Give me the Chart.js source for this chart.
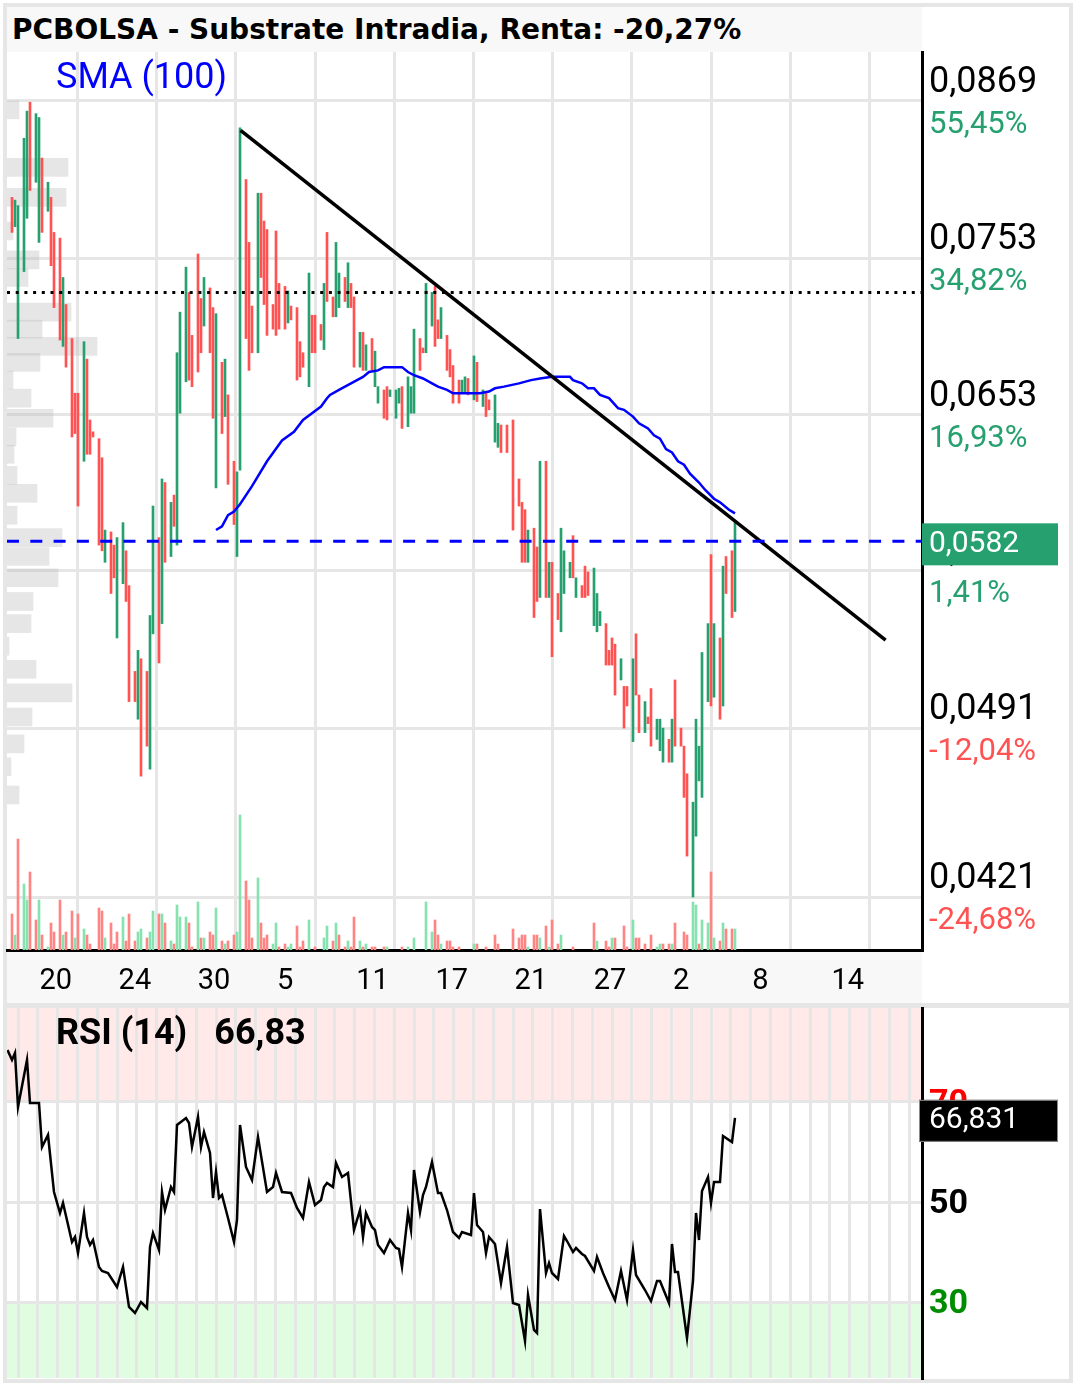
<!DOCTYPE html>
<html>
<head>
<meta charset="utf-8">
<script src="https://cdn.jsdelivr.net/npm/chart.js@4.4.1/dist/chart.umd.min.js"></script>
<style>
  html, body { margin: 0; padding: 0; background: #fff; }
  #page { position: relative; width: 1076px; height: 1385px; overflow: hidden; background: #fff; font-family: Roboto, sans-serif; }
  .frame { position: absolute; left: 3px; top: 3px; width: 1070px; height: 1380px; box-sizing: border-box; border: 4px solid #e6e6e6; }
  #titleBar { position: absolute; left: 7px; top: 7px; width: 915px; height: 45px; background: #f8f8f8; box-sizing: border-box;
              padding-left: 5px; font: bold 28px "DejaVu Sans", sans-serif; line-height: 45px; color: #000; white-space: nowrap; }
  #sep { position: absolute; left: 7px; top: 1003px; width: 1062px; height: 5px; background: #e6e6e6; }
  canvas { position: absolute; left: 0; }
  #main { top: 0; }
  #rsi { top: 1003px; }
  #smaLabel { position: absolute; left: 56px; top: 56px; color: #0000ff; font: 36px Roboto, sans-serif; line-height: 40px; }
  #rsiLabel { position: absolute; left: 56px; top: 1012px; color: #000; font: bold 36px Roboto, sans-serif; line-height: 40px; white-space: nowrap; }
  #rsiLabel span { margin-left: 27px; }
</style>
</head>
<body>
<div id="page">
  <div class="frame"></div>
  <div id="titleBar">PCBOLSA - Substrate Intradia, Renta: -20,27%</div>
  <canvas id="main" width="1076" height="1003"></canvas>
  <div id="sep"></div>
  <canvas id="rsi" width="1076" height="382"></canvas>
  <div id="smaLabel">SMA (100)</div>
  <div id="rsiLabel">RSI (14)<span>66,83</span></div>
</div>
<script>
/* =========================
   DATOS
========================= */
// velas (posición = número de barra intradía)
const candleSlots = [
  0,1,2, 4,5,6, 8,9,10, 12,13,14, 16,17,18, 20,21,22, 24,25,26,27, 29,30,31, 33,34,35, 37,38,39,
  41,42,43, 45,46,47, 49,50,51, 53,54,55,56, 58,59,60, 62,63,64, 66,67,68, 70,71,72, 74,75,76,
  78,79,80, 82,83,84,85, 87,88,89, 91,92,93, 95,96,97, 99,100,101, 103,104,105, 107,108,109,
  111,112,113,114, 116,117,118, 120,121,122, 124,125,126, 128,129,130, 132,133,134, 136,137,138,
  140,141,142,143, 145,146,147, 149,150,151,152, 154,155, 157,158,159, 161,162,163, 165, 167,
  169,170,171,172, 174,175,176, 178,179,180, 182,183,184, 186,187,188, 190,191,192, 194,195,196,
  198,199,200,201, 203,204,205, 207,208,209, 211,212,213, 215,216,217, 219,220,221, 223,224,225,
  227,228,229,230, 232,233,234, 236,237,238, 240,241
];
const opens = [
  .0796,.0775,.0700, .0744,.0781,.0868, .0807,.0764,.0825, .0786,.0796,.0771, .0767,.0695,.0722, .0700,.0666,.0666, .0626,.0687,.0650,.0643, .0639,.0628,.0571, .0587,.0580,.0533, .0560,.0577,.0559,
  .0517,.0495,.0523, .0517,.0473,.0535, .0584,.0540,.0614, .0574,.0607,.0580,.0654, .0673,.0730,.0702, .0756,.0726,.0708, .0733,.0720,.0611, .0685,.0652,.0665, .0626,.0574,.0621,
  .0809,.0764,.0721, .0691,.0799,.0779,.0773, .0722,.0772,.0736, .0734,.0710,.0721, .0720,.0698,.0691, .0670,.0715,.0715, .0709,.0693,.0771, .0727,.0714,.0720,
  .0740,.0720,.0736,.0727, .0682,.0704,.0680, .0700,.0670,.0660, .0668,.0670,.0664, .0651,.0660,.0670, .0646,.0654,.0654, .0700,.0694,.0691,
  .0708,.0734,.0712,.0700, .0702,.0693,.0683, .0674,.0666,.0666,.0675, .0662,.0685, .0658,.0666,.0662, .0637,.0634,.0647, .0647, .0650,
  .0616,.0603,.0599,.0571, .0589,.0579,.0553, .0626,.0553,.0571, .0555,.0536,.0555, .0563,.0585,.0553, .0559,.0569,.0566, .0539,.0536,.0539,
  .0540,.0527,.0533,.0530, .0513,.0510,.0510, .0485,.0535,.0506, .0489,.0496,.0509, .0486,.0481,.0476, .0486,.0476,.0513, .0491,.0483,.0471,
  .0421,.0445,.0468,.0461, .0503,.0575,.0505, .0533,.0501,.0574, .0577,.0546
];
const closes = [
  .0771,.0794,.0790, .0840,.0861,.0801, .0859,.0856,.0771, .0807,.0748,.0720, .0699,.0740,.0682, .0640,.0642,.0601, .0698,.0630,.0630,.0640, .0580,.0577,.0588, .0555,.0563,.0584, .0592,.0551,.0503,
  .0503,.0527,.0470, .0483,.0544,.0601, .0521,.0616,.0571, .0603,.0590,.0691,.0717, .0747,.0674,.0670, .0679,.0691,.0740, .0691,.0651,.0716, .0642,.0687,.0613, .0591,.0620,.0848,
  .0700,.0680,.0691, .0799,.0740,.0722,.0702, .0706,.0702,.0706, .0706,.0731,.0712, .0674,.0676,.0682, .0743,.0691,.0691, .0699,.0736,.0724, .0714,.0764,.0743,
  .0724,.0750,.0720,.0682, .0704,.0680,.0696, .0680,.0692,.0670, .0651,.0650,.0668, .0668,.0669,.0645, .0676,.0670,.0706, .0680,.0691,.0736,
  .0730,.0695,.0700,.0720, .0680,.0676,.0660, .0660,.0674,.0676,.0665, .0689,.0661, .0668,.0652,.0656, .0665,.0648,.0631, .0631, .0588,
  .0601,.0571,.0571,.0588, .0543,.0551,.0626, .0553,.0571,.0524, .0542,.0589,.0577, .0571,.0563,.0563, .0553,.0553,.0554, .0568,.0555,.0546,
  .0520,.0520,.0520,.0506, .0523,.0491,.0501, .0523,.0506,.0489, .0503,.0493,.0483, .0495,.0495,.0491, .0476,.0495,.0483, .0483,.0461,.0437,
  .0459,.0495,.0483,.0526, .0540,.0501,.0540, .0495,.0569,.0555, .0543,.0592
];

// volumen por barra (u = sube, d = baja)
const volSlots = [
  0,1,2,4,5,6,8,9,10,12, 13,14,16,17,18,20,21,22,24,25, 26,29,30,31,33,34,35,37,38,39,
  41,42,43,45,46,47,49,50,51,53, 54,55,56,58,59,60,62,63,64,66, 67,68,70,71,72,74,75,76,78,79,
  80,82,83,84,85,87,88,89,91,92, 93,95,96,97,99,101,104,105,107,108, 109,111,112,113,114,116,117,118,120,121,
  124,125,130,132,134,138,140,141,142,143, 145,146,147,149,154,155,158,161,162,167, 169,170,171,172,174,175,176,178,179,180,
  182,183,187,194,195,198,199,200,201,204, 205,207,208,209,211,213,215,216,217,219, 220,221,224,225,227,228,229,230,232,233,
  234,236,237,238,240,241
];
const volumes = [
  36,15,111,66,50,78,30,50,15,3, 27,18,50,15,18,39,12,36,21,15, 6,42,39,12,27,6,18,33,9,36,
  9,18,21,12,18,39,36,36,27,9, 6,45,33,33,27,3,48,12,12,18, 15,42,9,6,9,15,18,135,69,50,
  12,72,27,12,15,6,27,3,6,3, 6,24,3,9,30,3,12,24,9,27, 15,3,9,3,33,9,3,6,3,3,
  3,3,3,3,12,48,18,30,15,6, 9,9,3,3,6,6,3,15,6,21, 12,15,15,3,15,15,12,24,3,30,
  6,15,3,27,9,9,3,12,12,24, 3,30,12,12,6,15,3,6,6,6, 6,27,18,15,48,45,6,30,27,78,
  12,9,27,21,21,21
];
const volSides = (
  'duduuddudu' + 'ddduddudud' + 'dddudddudd' + 'duuduududu' + 'duuuddudud' + 'dududduudd' +
  'duddduuddu' + 'uddduduudu' + 'dduddududd' + 'duduuuuddu' + 'dddduddddd' + 'ddduddudud' +
  'dudduddudd' + 'dudddduudd' + 'uddduuduud' + 'ududdu'
).split('');

// perfil de volumen por precio
const profilePrices = [0.0862,0.0818,0.0796,0.0772,0.0752,0.0740,0.0717,0.0706,0.0695,0.0685,0.0674,0.0663,0.0651,0.0640,0.0630,
                       0.0618,0.0608,0.0596,0.0584,0.0574,0.0563,0.0551,0.0540,0.0529,0.0518,0.0507,0.0496,0.0484,0.0474,0.0462];
const profileVolumes = [12,61,59,6,32,21,64,35,90,33,6,24,46,9,7,10,30,10,55,42,51,26,24,2,29,65,25,17,4,12];

// SMA (100)
const smaSlots = [68,70,72,74,76,80,85,90,94,97,100,103,105,106,109,111,113,115,117,119,122,124,130,132,134,137,140,142,145,147,
                  156,159,161,164,169,173,176,180,186,187,190,192,194,196,199,202,204,207,209,212,214,216,218,220,222,224,226,229,231,234,236,239,241];
const smaValues = [.0588,.0590,.0596,.0598,.0602,.0612,.0626,.0638,.0643,.0650,.0654,.0658,.0663,.0665,.0668,.0670,.0672,.0674,.0676,.0679,.0680,.0682,.0682,.0679,.0677,.0675,.0672,.0670,.0668,.0666,
                   .0666,.0667,.0669,.0670,.0672,.0674,.0675,.0676,.0676,.0674,.0672,.0669,.0669,.0665,.0663,.0657,.0656,.0652,.0648,.0645,.0641,.0639,.0633,.0631,.0626,.0624,.0619,.0614,.0610,.0605,.0603,.0599,.0597];

// línea de tendencia y niveles
const trendSlots = [76.2, 291.2];
const trendPrices = [0.0846, 0.0532];
const refPrice = 0.0730;   // precio de inicio (Renta)
const lastPrice = 0.0582;

// RSI (14)
const rsiSlots = [
  -1.5,0,1,2,5,6,9,10,12,14, 16,17,20,21,22,24,25,26,27,29, 30,32,35,37,39,41,43,45,46,47,
  49,50,51,53,54,55,58,59,60,62, 63,64,66,67,68,69,70,72,74,75, 76,78,80,82,85,87,88,90,93,95,
  97,99,101,103,104,105,107,108,110,112, 114,116,117,118,120,121,122,124,126,128, 129,130,132,133,134,136,137,138,140,142,
  143,145,147,149,150,153,154,155,157,158, 159,161,163,165,167,169,171,172,174,175, 176,178,179,180,182,184,185,187,188,190,
  191,194,195,197,199,201,203,205,207,208, 211,213,215,216,219,220,221,222,225,227, 228,229,230,232,233,234,236,237,240,241
];
const rsiValues = [
  80.4,78.4,79.8,69,78.4,69.8,69.8,61,63.4,52, 47.8,49.8,42,43,39.8,47.8,43,41.4,42.4,37, 36.2,35.8,33,37,29,27.8,30,28.8,41,43.8,
  40.4,52,48.4,53,52,65.4,66.8,65.8,61,67, 61,64,59.8,50.8,56,50.8,51.4,46.8,42,46.4, 65.4,57,54.4,63,52,53,55.8,52,51.8,48.8,
  46.8,54,49.4,50.4,53,53.8,53,57.8,55,55.8, 44.4,48.4,43,47.8,45,44.4,41.4,39.8,42.4,40.8, 40.6,37,47.8,44.4,56.4,48,51.4,53,58,51.8,
  51.8,48.4,44,42.8,44,43.4,51.8,45.4,44,39.8, 43,41.6,33.8,41,29.8,29.4,22.2,31.4,24.4,23.8, 48.6,35.8,37.8,35.8,34.6,43.2,42.2,40,40.8,39.6,
  39.2,36.2,39,35.8,33,30.4,36.2,30.4,40.4,35.4, 32.4,30.2,34.2,34.2,29.8,41.6,36,36,22.8,34.2, 47.8,42.4,52.2,55,49.8,54,54,63.2,62,66.83
];
const rsiLast = 66.831;

// ejes
const dayTicks = [21.8, 48.2, 74.6, 101, 127.4, 153.8, 180.2, 206.6, 233, 259.4, 285.8];
const dayLabels = ['20', '24', '30', '5', '11', '17', '21', '27', '2', '8', '14'];
const priceTicks = [0.0421, 0.0491, 0.0567, 0.0653, 0.0753, 0.0869];
const pctLabels = ['-24,68%', '-12,04%', '1,41%', '16,93%', '34,82%', '55,45%'];
const rsiTicks = [30, 50, 70];

/* =========================
   ESTILO
========================= */
const GREEN = '#26a06f';
const RED = '#ff5252';
const VOL_GREEN = '#86e3b0';
const VOL_RED = '#ff8585';
const GRID = '#e6e6e6';
const X_MIN = -5 / 3;
const X_MAX = X_MIN + 305;
const Y_MIN = 0.04012;
const Y_MAX = 0.09086;

Chart.defaults.font.family = 'Roboto';
Chart.defaults.color = '#000';

const lineDefaults = { type: 'line', pointRadius: 0, fill: false, tension: 0 };
const noPad = s => { s.paddingTop = 0; s.paddingBottom = 0; s.paddingLeft = 0; s.paddingRight = 0; };

/* =========================
   GRÁFICA PRINCIPAL
========================= */
const mainBands = {
  id: 'mainBands',
  beforeDraw(chart) {
    const { ctx, chartArea } = chart;
    ctx.save();
    ctx.fillStyle = '#f8f8f8';
    ctx.fillRect(chartArea.left, chartArea.bottom, chartArea.right - chartArea.left, chart.height - chartArea.bottom);
    ctx.restore();
  },
  afterDraw(chart) {
    const { ctx } = chart;
    const yScale = chart.scales.y;
    ctx.save();
    // porcentajes bajo cada precio
    ctx.font = '31px Roboto';
    ctx.textBaseline = 'middle';
    ctx.textAlign = 'left';
    priceTicks.forEach((v, i) => {
      ctx.fillStyle = pctLabels[i].charAt(0) === '-' ? RED : GREEN;
      ctx.fillText(pctLabels[i], yScale.left + 7, yScale.getPixelForValue(v) + 24);
    });
    // último precio
    const y = yScale.getPixelForValue(lastPrice);
    ctx.fillStyle = GREEN;
    ctx.fillRect(922, y - 18, 136, 42);
    ctx.fillStyle = '#fff';
    ctx.font = '30px Roboto';
    ctx.fillText(lastPrice.toFixed(4).replace('.', ','), 929, y + 3);
    ctx.restore();
  }
};

const candleData = candleSlots.map((s, i) => ({ x: s, y: [opens[i], closes[i]] }));
const candleColors = candleSlots.map((s, i) => (closes[i] >= opens[i] ? GREEN : RED));

new Chart(document.getElementById('main'), {
  type: 'bar',
  data: {
    datasets: [
      {
        label: 'Perfil',
        indexAxis: 'y',
        xAxisID: 'xProf',
        yAxisID: 'y',
        data: profilePrices.map((p, i) => ({ x: profileVolumes[i], y: p })),
        backgroundColor: 'rgba(190,190,190,0.38)',
        barThickness: 18,
        grouped: false,
        order: 10
      },
      {
        label: 'Volumen',
        yAxisID: 'yVol',
        data: volSlots.map((s, i) => ({ x: s, y: volumes[i] })),
        backgroundColor: volSides.map(d => (d === 'u' ? VOL_GREEN : VOL_RED)),
        barThickness: 2,
        grouped: false,
        order: 9
      },
      {
        label: 'Velas',
        data: candleData,
        backgroundColor: candleColors,
        barThickness: 2,
        grouped: false,
        order: 5
      },
      {
        ...lineDefaults,
        label: 'SMA (100)',
        data: smaSlots.map((s, i) => ({ x: s, y: smaValues[i] })),
        borderColor: '#0000ff',
        borderWidth: 2.5,
        order: 3
      },
      {
        ...lineDefaults,
        label: 'Tendencia',
        data: trendSlots.map((s, i) => ({ x: s, y: trendPrices[i] })),
        borderColor: '#000',
        borderWidth: 3.5,
        order: 2
      },
      {
        ...lineDefaults,
        label: 'Inicio',
        data: [{ x: X_MIN, y: refPrice }, { x: X_MAX, y: refPrice }],
        borderColor: '#000',
        borderWidth: 3,
        borderDash: [3, 5.7],
        order: 2
      },
      {
        ...lineDefaults,
        label: 'Último',
        data: [{ x: X_MIN, y: lastPrice }, { x: X_MAX, y: lastPrice }],
        borderColor: '#0000ff',
        borderWidth: 3,
        borderDash: [12, 11.3],
        order: 1
      }
    ]
  },
  options: {
    responsive: false,
    animation: false,
    events: [],
    devicePixelRatio: 1,
    layout: { padding: { left: 7, top: 52, right: 0, bottom: 0 } },
    plugins: { legend: { display: false }, tooltip: { enabled: false } },
    scales: {
      x: {
        type: 'linear', position: 'bottom', min: X_MIN, max: X_MAX, offset: false,
        afterBuildTicks: s => { s.ticks = dayTicks.map(v => ({ value: v })); },
        afterFit: s => { s.height = 53; noPad(s); },
        grid: { color: GRID, lineWidth: 3, drawTicks: false, offset: false },
        border: { display: true, color: '#000', width: 3 },
        ticks: {
          autoSkip: false, maxRotation: 0, align: 'start', labelOffset: -38, padding: 14,
          color: '#000', font: { size: 29 },
          callback: (v, i) => dayLabels[i]
        }
      },
      xProf: { type: 'linear', axis: 'x', display: false, min: 0, max: 915, offset: false },
      y: {
        type: 'logarithmic', position: 'right', min: Y_MIN, max: Y_MAX, offset: false,
        afterBuildTicks: s => { s.ticks = priceTicks.map(v => ({ value: v })); },
        afterFit: s => { s.width = 154; noPad(s); },
        grid: { color: GRID, lineWidth: 3, drawTicks: false, offset: false },
        border: { display: true, color: '#000', width: 3 },
        ticks: {
          labelOffset: -18, padding: 7, color: '#000', font: { size: 36 },
          callback: v => v.toFixed(4).replace('.', ',')
        }
      },
      yVol: { type: 'linear', axis: 'y', display: false, min: 0, max: 898, offset: false }
    }
  },
  plugins: [mainBands]
});

/* =========================
   GRÁFICA RSI
========================= */
const rsiBands = {
  id: 'rsiBands',
  beforeDraw(chart) {
    const { ctx, chartArea } = chart;
    const y = chart.scales.y;
    const w = chartArea.right - chartArea.left;
    ctx.save();
    ctx.fillStyle = '#ffe9e9';
    ctx.fillRect(chartArea.left, chartArea.top, w, y.getPixelForValue(70) - chartArea.top);
    ctx.fillStyle = '#e1fde1';
    ctx.fillRect(chartArea.left, y.getPixelForValue(30), w, chartArea.bottom - y.getPixelForValue(30));
    ctx.restore();
  },
  afterDraw(chart) {
    const { ctx } = chart;
    const y = chart.scales.y.getPixelForValue(rsiLast);
    ctx.save();
    ctx.fillStyle = '#000';
    ctx.fillRect(919, y - 18, 139, 42);
    ctx.strokeStyle = '#8a8a8a';
    ctx.lineWidth = 1;
    ctx.strokeRect(919.5, y - 17.5, 138, 41);
    ctx.fillStyle = '#fff';
    ctx.font = '30px Roboto';
    ctx.textBaseline = 'middle';
    ctx.fillText(rsiLast.toFixed(3).replace('.', ','), 929, y + 3);
    ctx.restore();
  }
};

const rsiGrid = Array.from({ length: 46 }, (_, k) => 2 + 6.6 * k);
const rsiColors = ['#008c00', '#000', '#ff0000'];

new Chart(document.getElementById('rsi'), {
  type: 'line',
  data: {
    datasets: [{
      label: 'RSI (14)',
      data: rsiSlots.map((s, i) => ({ x: s, y: rsiValues[i] })),
      borderColor: '#000',
      borderWidth: 2.5,
      pointRadius: 0,
      tension: 0,
      fill: false
    }]
  },
  options: {
    responsive: false,
    animation: false,
    events: [],
    devicePixelRatio: 1,
    layout: { padding: { left: 7, top: 5, right: 0, bottom: 7 } },
    plugins: { legend: { display: false }, tooltip: { enabled: false } },
    scales: {
      x: {
        type: 'linear', min: X_MIN, max: X_MAX, offset: false,
        afterBuildTicks: s => { s.ticks = rsiGrid.map(v => ({ value: v })); },
        afterFit: s => { s.height = 0; noPad(s); },
        grid: { color: GRID, lineWidth: 3, drawTicks: false },
        border: { display: false },
        ticks: { display: false }
      },
      y: {
        type: 'linear', position: 'right', min: 14.8, max: 88.8,
        afterBuildTicks: s => { s.ticks = rsiTicks.map(v => ({ value: v })); },
        afterFit: s => { s.width = 154; noPad(s); },
        grid: { color: GRID, lineWidth: 3, drawTicks: false },
        border: { display: true, color: '#000', width: 3 },
        ticks: {
          padding: 7, labelOffset: 2, font: { size: 34, weight: 'bold' },
          color: ctx => rsiColors[ctx.index],
          callback: v => String(v)
        }
      }
    }
  },
  plugins: [rsiBands]
});
</script>
</body>
</html>
